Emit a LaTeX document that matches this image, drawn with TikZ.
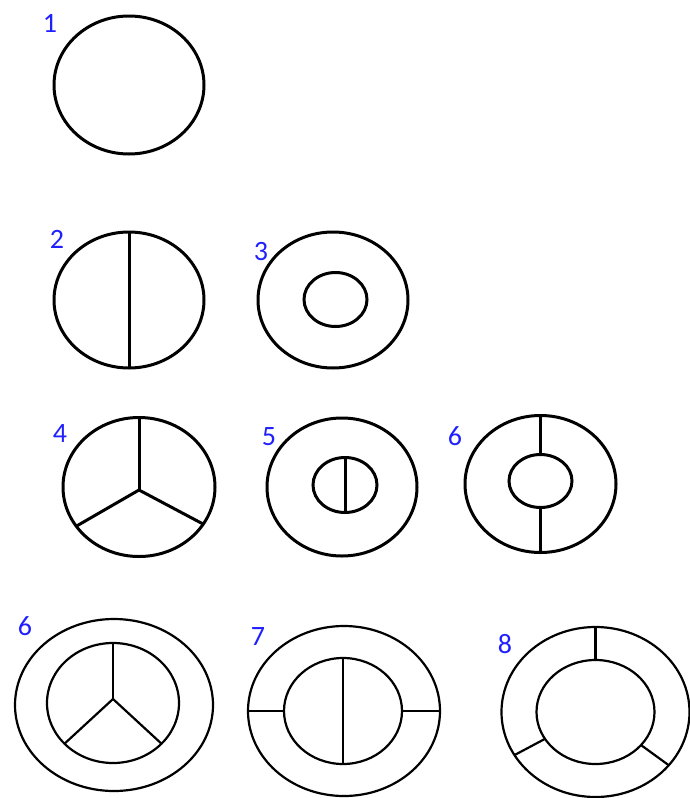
\documentclass[tikz,border=0pt]{standalone}
\usepackage{fontspec}
\setmainfont{Carlito}
\usepackage{tikz}
\usetikzlibrary{shapes.geometric}
\definecolor{numblue}{HTML}{2020FF}

\begin{document}
\begin{tikzpicture}[x=1pt,y=-1pt,font=\fontsize{28}{30}\selectfont,
ring/.style={draw,ellipse,line width=3pt,inner sep=0pt,outer sep=0pt},
thinring/.style={ring,line width=2.2pt},
spoke/.style={line width=3pt},
thinspoke/.style={line width=2.2pt},
num/.style={text=numblue,inner sep=0pt}]
\useasboundingbox (0,0) rectangle (690,798);
% first row
\node[ring,minimum width=150pt,minimum height=138pt] (one) at (129,85) {};
% second row
\node[ring,minimum width=150pt,minimum height=136pt] (two) at (129,300) {};
\node[ring,minimum width=150pt,minimum height=136pt] (three) at (333,300) {};
\node[ring,minimum width=63pt,minimum height=54pt] (threein) at (335.5,299.5) {};
\draw[spoke] (two.north) -- (two.south);
% third row
\node[ring,minimum width=152pt,minimum height=139pt] (four) at (139,487) {};
\coordinate (fourhub) at (139,490);
\draw[spoke] (fourhub) -- (four.north);
\draw[spoke] (fourhub) -- (four.212);
\draw[spoke] (fourhub) -- (four.330);
\node[ring,minimum width=150pt,minimum height=138pt] (five) at (342,487) {};
\node[ring,minimum width=64pt,minimum height=55pt] (fivein) at (345,485) {};
\draw[spoke] (fivein.north) -- (fivein.south);
\node[ring,minimum width=151pt,minimum height=137pt] (six) at (540.5,484) {};
\node[ring,minimum width=63pt,minimum height=53pt] (sixin) at (540.5,481) {};
\draw[spoke] (six.north) -- (sixin.north);
\draw[spoke] (sixin.south) -- (six.south);
% last row
\node[thinring,minimum width=198pt,minimum height=172pt] (sixb) at (114,705) {};
\node[thinring,minimum width=132pt,minimum height=120pt] (sixbin) at (113,703) {};
\coordinate (sixbhub) at (113,699);
\draw[thinspoke] (sixbhub) -- (sixbin.north);
\draw[thinspoke] (sixbhub) -- (sixbin.220);
\draw[thinspoke] (sixbhub) -- (sixbin.320);
\node[thinring,minimum width=192pt,minimum height=170pt] (seven) at (344,711) {};
\node[thinring,minimum width=118pt,minimum height=106pt] (sevenin) at (343,711) {};
\draw[thinspoke] (sevenin.north) -- (sevenin.south);
\draw[thinspoke] (seven.west) -- (sevenin.west);
\draw[thinspoke] (sevenin.east) -- (seven.east);
\node[thinring,minimum width=188pt,minimum height=170pt] (eight) at (595.5,712) {};
\node[thinring,minimum width=118pt,minimum height=104pt] (eightin) at (595.5,712) {};
\draw[thinspoke] (eight.north) -- (eightin.north);
\draw[thinspoke] (eight.208) -- (eightin.208);
\draw[thinspoke] (eight.324) -- (eightin.324);
% numbers
\node[num] (n1) at (50,23) {1};
\node[num] (n2) at (57,239) {2};
\node[num] (n3) at (261,252) {3};
\node[num] (n4) at (60,434) {4};
\node[num] (n5) at (269,437) {5};
\node[num] (n6) at (455,436) {6};
\node[num] (n6b) at (25,626) {6};
\node[num] (n7) at (258,637) {7};
\node[num] (n8) at (505,644) {8};
\end{tikzpicture}
\end{document}
